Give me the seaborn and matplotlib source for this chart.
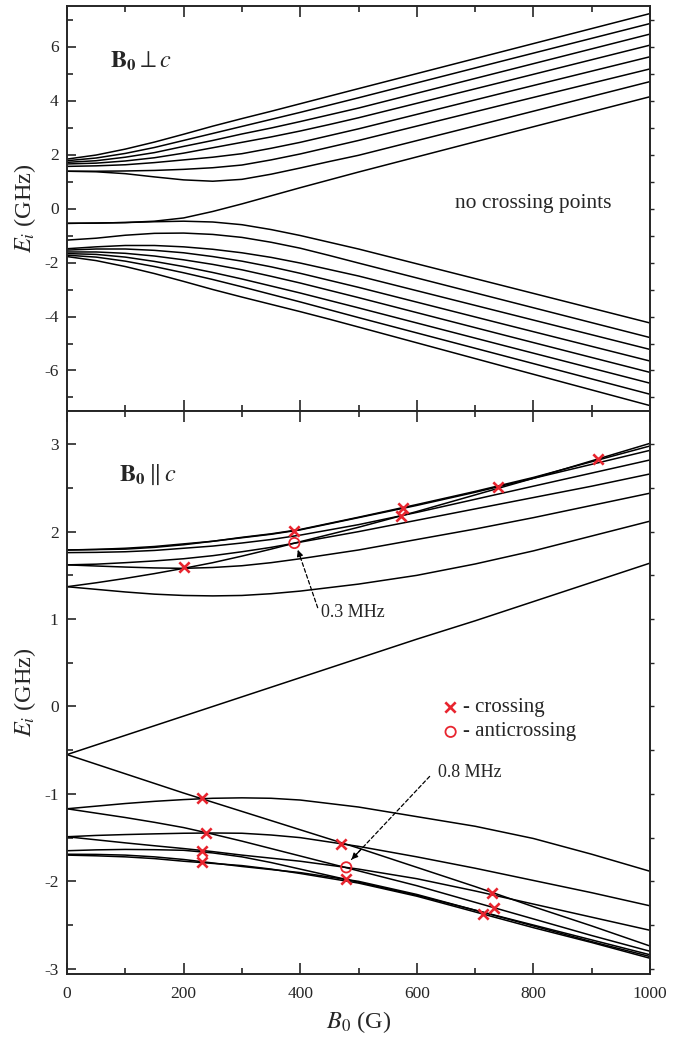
import numpy as np
import pandas as pd
import matplotlib
matplotlib.use("Agg")
import matplotlib.pyplot as plt
from matplotlib.ticker import MultipleLocator
import seaborn as sns

# ---------------- data ----------------
# Top panel: B0 perpendicular to c
B_TOP = [0, 50, 100, 150, 200, 250, 300, 350, 400, 450, 500, 750, 1000]
TOP_U1 = [1.83, 1.98, 2.20, 2.46, 2.75, 3.05, 3.33, 3.60, 3.88, 4.16, 4.44, 5.83, 7.22]
TOP_U2 = [1.77, 1.87, 2.04, 2.26, 2.52, 2.78, 3.04, 3.30, 3.56, 3.83, 4.10, 5.48, 6.85]
TOP_U3 = [1.71, 1.77, 1.90, 2.07, 2.30, 2.52, 2.76, 2.98, 3.22, 3.47, 3.72, 5.09, 6.46]
TOP_U4 = [1.65, 1.68, 1.76, 1.88, 2.05, 2.25, 2.45, 2.65, 2.87, 3.11, 3.36, 4.70, 6.05]
TOP_U5 = [1.56, 1.58, 1.62, 1.70, 1.80, 1.90, 2.03, 2.23, 2.45, 2.70, 2.95, 4.29, 5.62]
TOP_U6 = [1.38, 1.38, 1.39, 1.41, 1.45, 1.51, 1.61, 1.80, 2.02, 2.27, 2.52, 3.85, 5.17]
TOP_U7 = [1.38, 1.36, 1.29, 1.17, 1.06, 1.01, 1.08, 1.27, 1.50, 1.74, 1.97, 3.33, 4.70]
TOP_U8 = [-0.55, -0.54, -0.52, -0.47, -0.35, -0.11, 0.17, 0.47, 0.77, 1.06, 1.35, 2.75, 4.14]
TOP_L1 = [-0.55, -0.54, -0.52, -0.49, -0.47, -0.50, -0.60, -0.78, -1.00, -1.25, -1.50, -2.87, -4.24]
TOP_L2 = [-1.17, -1.10, -0.99, -0.92, -0.91, -0.96, -1.07, -1.25, -1.47, -1.74, -2.02, -3.40, -4.78]
TOP_L3 = [-1.49, -1.42, -1.37, -1.37, -1.42, -1.51, -1.64, -1.81, -2.02, -2.26, -2.50, -3.86, -5.22]
TOP_L4 = [-1.54, -1.50, -1.50, -1.55, -1.64, -1.78, -1.95, -2.16, -2.40, -2.66, -2.92, -4.29, -5.65]
TOP_L5 = [-1.61, -1.61, -1.66, -1.76, -1.90, -2.07, -2.27, -2.51, -2.76, -3.03, -3.30, -4.69, -6.07]
TOP_L6 = [-1.67, -1.70, -1.80, -1.96, -2.15, -2.37, -2.61, -2.87, -3.13, -3.405, -3.68, -5.08, -6.47]
TOP_L7 = [-1.73, -1.80, -1.95, -2.15, -2.38, -2.63, -2.90, -3.18, -3.46, -3.75, -4.04, -5.46, -6.88]
TOP_L8 = [-1.78, -1.93, -2.15, -2.41, -2.70, -3.00, -3.28, -3.55, -3.82, -4.10, -4.39, -5.85, -7.30]

# Bottom panel: B0 parallel to c
B_BOT = [0, 50, 100, 150, 200, 250, 300, 350, 400, 500, 600, 700, 800, 900, 1000]
BOT_A1 = [1.37, 1.34, 1.31, 1.285, 1.27, 1.265, 1.27, 1.29, 1.32, 1.40, 1.50, 1.63, 1.78, 1.95, 2.12]
BOT_A2 = [1.62, 1.607, 1.595, 1.585, 1.58, 1.59, 1.61, 1.645, 1.69, 1.79, 1.91, 2.03, 2.16, 2.30, 2.44]
BOT_S = [1.37, 1.415, 1.465, 1.52, 1.58, 1.645, 1.72, 1.80, 1.885, 2.05, 2.23, 2.42, 2.61, 2.81, 3.01]
BOT_A4 = [1.62, 1.628, 1.645, 1.665, 1.69, 1.725, 1.77, 1.82, 1.88, 2.00, 2.13, 2.26, 2.39, 2.52, 2.66]
BOT_A5 = [1.76, 1.763, 1.77, 1.785, 1.81, 1.835, 1.87, 1.91, 1.96, 2.08, 2.22, 2.37, 2.52, 2.67, 2.82]
BOT_A6 = [1.79, 1.797, 1.81, 1.83, 1.86, 1.89, 1.93, 1.97, 2.02, 2.16, 2.30, 2.45, 2.61, 2.77, 2.93]
BOT_A7 = [1.79, 1.795, 1.80, 1.82, 1.85, 1.89, 1.935, 1.975, 2.025, 2.165, 2.31, 2.46, 2.62, 2.80, 2.98]
BOT_R = [-0.55, -0.44, -0.33, -0.22, -0.11, 0.0, 0.11, 0.22, 0.33, 0.55, 0.77, 0.98, 1.20, 1.42, 1.64]
BOT_D = [-0.55, -0.66, -0.77, -0.88, -0.99, -1.095, -1.20, -1.305, -1.41, -1.62, -1.84, -2.06, -2.29, -2.51, -2.74]
BOT_C1 = [-1.17, -1.14, -1.11, -1.085, -1.065, -1.05, -1.045, -1.05, -1.07, -1.15, -1.26, -1.37, -1.51, -1.69, -1.885]
BOT_E = [-1.17, -1.22, -1.27, -1.325, -1.385, -1.46, -1.54, -1.625, -1.71, -1.88, -2.05, -2.24, -2.43, -2.62, -2.80]
BOT_C2 = [-1.49, -1.475, -1.465, -1.457, -1.45, -1.447, -1.45, -1.47, -1.50, -1.60, -1.72, -1.85, -1.99, -2.13, -2.28]
BOT_C3 = [-1.49, -1.525, -1.56, -1.593, -1.625, -1.66, -1.70, -1.735, -1.77, -1.86, -1.97, -2.11, -2.26, -2.41, -2.56]
BOT_C4 = [-1.65, -1.64, -1.635, -1.638, -1.645, -1.675, -1.72, -1.785, -1.86, -2.01, -2.16, -2.33, -2.50, -2.67, -2.84]
BOT_C5 = [-1.69, -1.692, -1.70, -1.72, -1.75, -1.79, -1.83, -1.865, -1.90, -2.00, -2.15, -2.33, -2.51, -2.69, -2.86]
BOT_C6 = [-1.70, -1.708, -1.72, -1.74, -1.77, -1.795, -1.82, -1.86, -1.91, -2.02, -2.17, -2.35, -2.53, -2.70, -2.88]

# crossing / anticrossing points
CROSS_B = [200, 390, 573, 576, 740, 910, 232, 238, 232, 232, 470, 478, 729, 733, 714]
CROSS_E = [1.60, 2.01, 2.18, 2.27, 2.51, 2.83, -1.05, -1.445, -1.655, -1.78,
           -1.57, -1.976, -2.13, -2.30, -2.37]
ANTI_B = [390, 479]
ANTI_E = [1.87, -1.84]

# ---------------- style ----------------
sns.set_style("ticks")
plt.rcParams["font.family"] = ["Liberation Serif", "DejaVu Serif"]
plt.rcParams["mathtext.fontset"] = "stix"
plt.rcParams["axes.unicode_minus"] = False

RED = "#e8252f"
LW = 1.1

top_curves = {"U1": TOP_U1, "U2": TOP_U2, "U3": TOP_U3, "U4": TOP_U4,
              "U5": TOP_U5, "U6": TOP_U6, "U7": TOP_U7, "U8": TOP_U8,
              "L1": TOP_L1, "L2": TOP_L2, "L3": TOP_L3, "L4": TOP_L4,
              "L5": TOP_L5, "L6": TOP_L6, "L7": TOP_L7, "L8": TOP_L8}
bot_curves = {"A1": BOT_A1, "A2": BOT_A2, "S": BOT_S, "A4": BOT_A4,
              "A5": BOT_A5, "A6": BOT_A6, "A7": BOT_A7, "R": BOT_R,
              "D": BOT_D, "C1": BOT_C1, "E": BOT_E, "C2": BOT_C2,
              "C3": BOT_C3, "C4": BOT_C4, "C5": BOT_C5, "C6": BOT_C6}


def long_df(bvals, curves):
    rows = []
    for name, vals in curves.items():
        for b, e in zip(bvals, vals):
            rows.append({"B": b, "E": e, "level": name})
    return pd.DataFrame(rows)


df_top = long_df(B_TOP, top_curves)
df_bot = long_df(B_BOT, bot_curves)

W, H = 684, 1038
fig = plt.figure(figsize=(W / 100, H / 100), dpi=100)
L, R_ = 67, 650
ax_top = fig.add_axes([L / W, 1 - 411 / H, (R_ - L) / W, (411 - 6) / H])
ax_bot = fig.add_axes([L / W, 1 - 974 / H, (R_ - L) / W, (974 - 411) / H])

sns.lineplot(data=df_top, x="B", y="E", units="level", estimator=None,
             color="black", linewidth=LW, sort=False, ax=ax_top, legend=False)
sns.lineplot(data=df_bot, x="B", y="E", units="level", estimator=None,
             color="black", linewidth=LW, sort=False, ax=ax_bot, legend=False)

sns.scatterplot(x=CROSS_B, y=CROSS_E, marker="x", color=RED, s=55,
                linewidth=1.9, ax=ax_bot, zorder=5, legend=False)
ax_bot.scatter(ANTI_B, ANTI_E, marker="o", s=55, facecolors="none",
               edgecolors=RED, linewidths=1.3, zorder=5)

# legend drawn as in the reference
ax_bot.scatter([657], [-0.01], marker="x", s=55, color=RED, linewidths=1.9)
ax_bot.scatter([658], [-0.29], marker="o", s=55, facecolors="none",
               edgecolors=RED, linewidths=1.3)
ax_bot.text(679, -0.01, "- crossing", fontsize=15, va="center", ha="left")
ax_bot.text(679, -0.29, "- anticrossing", fontsize=15, va="center", ha="left")


# annotations
def dashed_arrow(ax, tail, tip):
    ax.annotate("", xy=tip, xytext=tail,
                arrowprops=dict(arrowstyle="-", color="black", lw=0.9,
                                linestyle=(0, (3, 2)), shrinkA=0, shrinkB=0))
    tx, ty = tip
    dx, dy = tail[0] - tip[0], tail[1] - tip[1]
    f = 0.12
    ax.annotate("", xy=tip, xytext=(tx + f * dx, ty + f * dy),
                arrowprops=dict(arrowstyle="-|>", color="black", lw=0.9,
                                mutation_scale=9, shrinkA=0, shrinkB=0))


dashed_arrow(ax_bot, (430, 1.13), (396, 1.79))
ax_bot.text(436, 1.07, "0.3 MHz", fontsize=13, va="center", ha="left")
dashed_arrow(ax_bot, (622, -0.80), (488, -1.75))
ax_bot.text(636, -0.76, "0.8 MHz", fontsize=13, va="center", ha="left")

ax_top.text(73, 5.45, r"$\mathbf{B_0}\perp c$", fontsize=17.5, va="center")
ax_bot.text(89, 2.65, r"$\mathbf{B_0}\parallel c$", fontsize=17.5, va="center")
ax_top.text(665, 0.2, "no crossing points", fontsize=15.5, va="center", ha="left")

# axes formatting
for ax in (ax_top, ax_bot):
    ax.set_xlim(0, 1000)
    ax.xaxis.set_major_locator(MultipleLocator(200))
    ax.xaxis.set_minor_locator(MultipleLocator(100))
    ax.tick_params(which="both", direction="in", top=True, right=False,
                   width=1.2, labelsize=12.5, pad=6)
    ax.tick_params(axis="x", which="major", length=8)
    ax.tick_params(axis="x", which="minor", length=4)
    ax.tick_params(axis="y", which="major", length=6.5)
    ax.tick_params(axis="y", which="minor", length=4)
    for sp in ax.spines.values():
        sp.set_linewidth(1.4)
        sp.set_visible(True)
    ax.set_ylabel(r"$E_i$ (GHz)", fontsize=17.5)
    ax.yaxis.set_label_coords(-0.05, 0.5)

ax_top.set_ylim(-7.5, 7.5)
ax_top.yaxis.set_major_locator(MultipleLocator(2))
ax_top.yaxis.set_minor_locator(MultipleLocator(1))
ax_top.tick_params(axis="x", labelbottom=False)
ax_top.set_xlabel("")

ax_bot.set_ylim(-3.06, 3.38)
ax_bot.yaxis.set_major_locator(MultipleLocator(1))
ax_bot.yaxis.set_minor_locator(MultipleLocator(0.5))
ax_bot.tick_params(axis="x", pad=9)
ax_bot.set_xlabel(r"$B_0$ (G)", fontsize=17.5, labelpad=5)

# short outward ticks on the right spine
for ax, maj, mnr in ((ax_top, 2, 1), (ax_bot, 1, 0.5)):
    axr = ax.twinx()
    axr.set_ylim(ax.get_ylim())
    axr.yaxis.set_major_locator(MultipleLocator(maj))
    axr.yaxis.set_minor_locator(MultipleLocator(mnr))
    axr.tick_params(which="both", direction="out", length=3, width=1.0,
                    labelright=False)
    for sp in axr.spines.values():
        sp.set_visible(False)

fig.savefig("out.png", dpi=100)
